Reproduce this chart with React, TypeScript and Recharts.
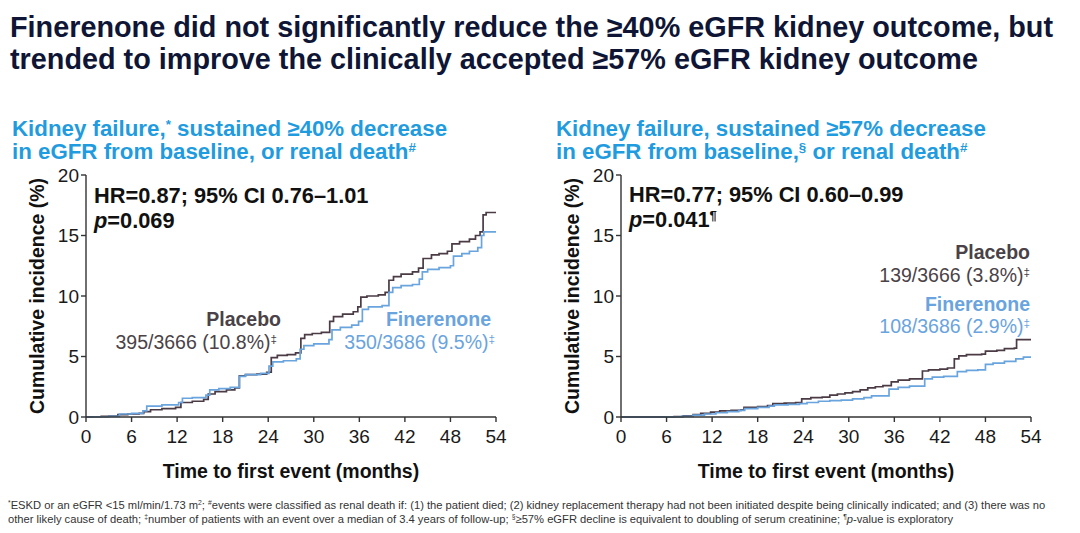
import React from "react";
import { Line, LineChart, XAxis, YAxis } from "recharts";

const monthTicks = [0, 6, 12, 18, 24, 30, 36, 42, 48, 54];
const incidenceTicks = [0, 5, 10, 15, 20];

// ≥40% eGFR outcome
const leftPlaceboMonths = [0, 1, 2, 3, 4.2, 5.5, 7, 7.6, 8.5, 10, 11.8, 12.5, 14, 15.5, 16.1, 17, 18.5, 19.6, 20.2, 21, 22.5, 23.8, 24.4, 25.2, 26.5, 27.6, 28.3, 28.8, 29.8, 31, 32.1, 32.6, 33.8, 35.2, 35.8, 36.2, 37, 38.5, 39.4, 39.9, 40.5, 41.5, 43, 43.8, 44.4, 45.5, 46.5, 47.6, 48.2, 49.2, 50.5, 51.3, 51.9, 52.3, 52.7, 54];
const leftPlaceboPct = [0, 0.02, 0.05, 0.08, 0.2, 0.25, 0.3, 0.45, 0.6, 0.7, 0.8, 1.2, 1.3, 1.45, 1.9, 2.1, 2.25, 2.4, 3.4, 3.5, 3.55, 3.7, 4.9, 5.1, 5.15, 5.3, 6.5, 6.8, 6.9, 7.0, 7.9, 8.3, 8.5, 8.7, 9.1, 9.9, 10.0, 10.1, 10.3, 11.3, 11.6, 11.8, 12.0, 12.3, 13.1, 13.4, 13.5, 13.7, 14.3, 14.5, 14.7, 15.0, 15.3, 16.7, 16.9, 16.9];
const leftFinerenoneMonths = [0, 1, 3, 4.4, 6, 7.5, 8, 10, 12.2, 12.7, 14, 15.8, 16.3, 17.5, 19, 20.2, 21, 23, 24.1, 24.6, 26, 27.7, 28.2, 28.7, 30, 32, 32.4, 33.5, 35, 35.9, 36.4, 37.2, 39, 39.9, 40.4, 41.5, 43, 43.9, 44.3, 45, 46.5, 48, 48.4, 49.5, 50.5, 51.6, 52.1, 52.4, 54];
const leftFinerenonePct = [0, 0.02, 0.05, 0.25, 0.3, 0.5, 0.9, 1.0, 1.2, 1.55, 1.6, 1.8, 2.25, 2.35, 2.45, 3.35, 3.5, 3.6, 4.2, 4.55, 4.65, 4.8, 5.6, 5.9, 6.05, 6.4, 7.2, 7.4, 7.6, 7.9, 8.9, 9.1, 9.2, 10.3, 10.7, 10.85, 10.95, 11.4, 12.0, 12.2, 12.35, 12.5, 13.3, 13.5, 13.7, 14.0, 15.0, 15.3, 15.3];

// ≥57% eGFR outcome
const rightPlaceboMonths = [0, 6, 7, 8.2, 9.5, 10.5, 11.8, 13, 14.5, 15.8, 16.2, 18, 19.3, 20, 21.5, 23, 23.8, 25, 26.5, 27.5, 28.5, 29.5, 30.5, 31.5, 32.5, 33.5, 34.5, 35.6, 36.5, 38, 39.7, 40.5, 42, 43, 43.9, 44.5, 45.5, 47.5, 48, 49.5, 50.5, 51.8, 52.1, 54];
const rightPlaceboPct = [0, 0, 0.03, 0.1, 0.2, 0.3, 0.4, 0.5, 0.55, 0.6, 0.8, 0.85, 0.95, 1.1, 1.15, 1.2, 1.5, 1.6, 1.65, 1.8, 1.9, 2.0, 2.1, 2.25, 2.4, 2.5, 2.6, 2.9, 3.05, 3.15, 3.8, 3.9, 3.95, 4.05, 4.8, 5.05, 5.15, 5.2, 5.45, 5.5, 5.65, 5.7, 6.4, 6.4];
const rightFinerenoneMonths = [0, 6, 8, 9.5, 11, 12.5, 14, 15.5, 16.3, 18, 19.5, 20.2, 22, 23.5, 24.5, 26, 27.5, 29, 30.5, 32, 33, 35.3, 36.5, 38, 40, 41, 42.5, 44.3, 45.5, 47, 48, 49, 50.5, 52, 53, 54];
const rightFinerenonePct = [0, 0.02, 0.05, 0.15, 0.25, 0.35, 0.45, 0.55, 0.7, 0.8, 0.9, 1.0, 1.05, 1.1, 1.2, 1.3, 1.35, 1.4, 1.5, 1.6, 1.75, 2.3, 2.45, 2.55, 3.15, 3.3, 3.35, 3.75, 3.85, 3.9, 4.35, 4.45, 4.6, 4.8, 4.95, 4.95];

const PLACEBO = "#4a3b45";
const PLACEBO_TEXT = "#4a4247";
const FINERENONE = "#6aa4de";
const SUB_BLUE = "#1f9be0";
const FONT = "'Liberation Sans', Arial, Helvetica, sans-serif";

const toSeries = (months: number[], pct: number[]) =>
  months.map((m, i) => ({ month: m, pct: pct[i] }));

function KMChart({
  left,
  placebo,
  finerenone,
}: {
  left: number;
  placebo: { month: number; pct: number }[];
  finerenone: { month: number; pct: number }[];
}) {
  const tick = { fontSize: 19, fill: "#1a1a1a", fontFamily: FONT };
  const axisLine = { stroke: "#333", strokeWidth: 1.4 };
  return (
    <div style={{ position: "absolute", left, top: 160 }}>
      <LineChart
        width={540}
        height={330}
        margin={{ top: 15, right: 44, left: 26, bottom: 12 }}
      >
        <XAxis
          dataKey="month"
          type="number"
          domain={[0, 54]}
          ticks={monthTicks}
          tick={tick}
          tickSize={5}
          tickMargin={8}
          axisLine={axisLine}
          tickLine={axisLine}
          height={61}
          allowDuplicatedCategory={false}
          label={{
            value: "Time to first event (months)",
            position: "insideBottom",
            offset: 0,
            style: { fontSize: 19.5, fontWeight: 700, fill: "#111", fontFamily: FONT },
          }}
        />
        <YAxis
          dataKey="pct"
          type="number"
          domain={[0, 20]}
          ticks={incidenceTicks}
          tick={tick}
          tickSize={5}
          tickMargin={2}
          axisLine={axisLine}
          tickLine={axisLine}
          width={60}
          label={{
            value: "Cumulative incidence (%)",
            angle: -90,
            position: "center",
            dx: -19,
            style: { fontSize: 19.5, fontWeight: 700, fill: "#111", fontFamily: FONT },
          }}
        />
        <Line
          data={placebo}
          dataKey="pct"
          type="stepAfter"
          stroke={PLACEBO}
          strokeWidth={1.7}
          dot={false}
          isAnimationActive={false}
        />
        <Line
          data={finerenone}
          dataKey="pct"
          type="stepAfter"
          stroke={FINERENONE}
          strokeWidth={1.7}
          dot={false}
          isAnimationActive={false}
        />
      </LineChart>
    </div>
  );
}

// place text by its baseline (Liberation Sans metrics)
function T({
  x,
  base,
  size,
  align = "left",
  bold = false,
  color = "#111",
  children,
}: {
  x: number;
  base: number;
  size: number;
  align?: "left" | "right";
  bold?: boolean;
  color?: string;
  children: React.ReactNode;
}) {
  const top = base - 0.8465 * size;
  const pos: React.CSSProperties =
    align === "left" ? { left: x } : { right: 1080 - x, textAlign: "right" };
  return (
    <div
      style={{
        position: "absolute",
        top,
        ...pos,
        fontSize: size,
        lineHeight: `${size}px`,
        fontWeight: bold ? 700 : 400,
        color,
        whiteSpace: "nowrap",
      }}
    >
      {children}
    </div>
  );
}

const Sup = ({ children }: { children: React.ReactNode }) => (
  <span style={{ fontSize: "0.6em", verticalAlign: "0.55em", lineHeight: 0 }}>{children}</span>
);

export default function App() {
  return (
    <div
      style={{
        position: "absolute",
        left: 0,
        top: 0,
        width: 1080,
        height: 533,
        overflow: "hidden",
        background: "#fff",
        fontFamily: FONT,
      }}
    >
      <T x={10} base={37} size={28.8} bold color="#0f1535">
        Finerenone did not significantly reduce the ≥40% eGFR kidney outcome, but
      </T>
      <T x={10} base={69} size={28.8} bold color="#0f1535">
        trended to improve the clinically accepted ≥57% eGFR kidney outcome
      </T>

      <T x={12} base={137} size={22.3} bold color={SUB_BLUE}>
        Kidney failure,<Sup>*</Sup> sustained ≥40% decrease
      </T>
      <T x={12} base={160} size={22.3} bold color={SUB_BLUE}>
        in eGFR from baseline, or renal death<Sup>#</Sup>
      </T>
      <T x={556} base={137} size={22.3} bold color={SUB_BLUE}>
        Kidney failure, sustained ≥57% decrease
      </T>
      <T x={556} base={160} size={22.3} bold color={SUB_BLUE}>
        in eGFR from baseline,<Sup>§</Sup> or renal death<Sup>#</Sup>
      </T>

      <KMChart
        left={0}
        placebo={toSeries(leftPlaceboMonths, leftPlaceboPct)}
        finerenone={toSeries(leftFinerenoneMonths, leftFinerenonePct)}
      />
      <KMChart
        left={535}
        placebo={toSeries(rightPlaceboMonths, rightPlaceboPct)}
        finerenone={toSeries(rightFinerenoneMonths, rightFinerenonePct)}
      />

      <T x={94} base={203} size={21.8} bold>
        HR=0.87; 95% CI 0.76–1.01
      </T>
      <T x={94} base={228} size={21.8} bold>
        <i>p</i>=0.069
      </T>
      <T x={629} base={202} size={21.8} bold>
        HR=0.77; 95% CI 0.60–0.99
      </T>
      <T x={629} base={227} size={21.8} bold>
        <i>p</i>=0.041<Sup>¶</Sup>
      </T>

      <T x={281} base={327} size={19.5} bold color={PLACEBO_TEXT} align="right">
        Placebo
      </T>
      <T x={277} base={350} size={19.5} color={PLACEBO_TEXT} align="right">
        395/3666 (10.8%)<Sup>‡</Sup>
      </T>
      <T x={491} base={327} size={19.5} bold color={FINERENONE} align="right">
        Finerenone
      </T>
      <T x={495} base={350} size={19.5} color={FINERENONE} align="right">
        350/3686 (9.5%)<Sup>‡</Sup>
      </T>

      <T x={1030} base={260} size={19.5} bold color={PLACEBO_TEXT} align="right">
        Placebo
      </T>
      <T x={1030} base={283} size={19.5} color={PLACEBO_TEXT} align="right">
        139/3666 (3.8%)<Sup>‡</Sup>
      </T>
      <T x={1030} base={312} size={19.5} bold color={FINERENONE} align="right">
        Finerenone
      </T>
      <T x={1030} base={334} size={19.5} color={FINERENONE} align="right">
        108/3686 (2.9%)<Sup>‡</Sup>
      </T>

      <T x={8} base={509} size={11.2} color="#333">
        <Sup>*</Sup>ESKD or an eGFR &lt;15 ml/min/1.73 m<Sup>2</Sup>; <Sup>#</Sup>events were classified as
        renal death if: (1) the patient died; (2) kidney replacement therapy had not been initiated despite
        being clinically indicated; and (3) there was no
      </T>
      <T x={8} base={523} size={11.2} color="#333">
        other likely cause of death; <Sup>‡</Sup>number of patients with an event over a median of 3.4 years of
        follow-up; <Sup>§</Sup>≥57% eGFR decline is equivalent to doubling of serum creatinine; <Sup>¶</Sup>
        <i>p</i>-value is exploratory
      </T>
    </div>
  );
}
